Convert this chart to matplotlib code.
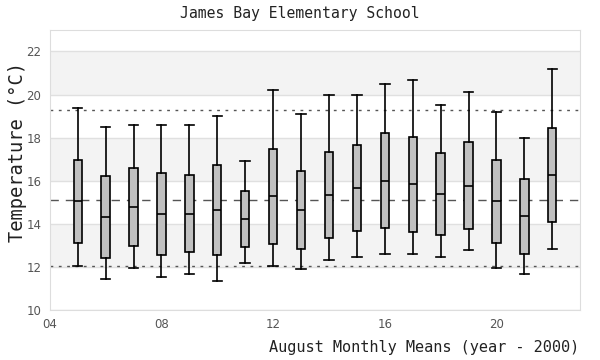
import matplotlib
matplotlib.use("Agg")
import matplotlib.pyplot as plt

# August monthly means per year (year - 2000)
years = [5, 6, 7, 8, 9, 10, 11, 12, 13, 14, 15, 16, 17, 18, 19, 20, 21, 22]
whisker_low = [12.06, 11.46, 11.97, 11.55, 11.69, 11.36, 12.16, 12.06, 11.88,
               12.30, 12.48, 12.59, 12.59, 12.48, 12.76, 11.97, 11.69, 12.85]
q1 = [13.13, 12.39, 12.95, 12.53, 12.67, 12.53, 12.90, 13.04, 12.81,
      13.32, 13.65, 13.79, 13.60, 13.48, 13.74, 13.13, 12.62, 14.07]
medians = [15.04, 14.30, 14.78, 14.44, 14.44, 14.62, 14.20, 15.28, 14.62,
           15.32, 15.66, 15.98, 15.84, 15.37, 15.74, 15.04, 14.36, 16.25]
q3 = [16.95, 16.21, 16.58, 16.35, 16.25, 16.72, 15.51, 17.47, 16.44,
      17.33, 17.65, 18.21, 18.02, 17.28, 17.79, 16.95, 16.07, 18.44]
whisker_high = [19.36, 18.48, 18.57, 18.57, 18.57, 18.99, 16.91, 20.21, 19.10,
                19.98, 19.98, 20.49, 20.68, 19.52, 20.12, 19.19, 17.98, 21.19]

overall_mean = 15.09
upper_ref = 19.28
lower_ref = 12.06

x_ticks = [4, 8, 12, 16, 20]
y_ticks = [10, 12, 14, 16, 18, 20, 22]
shaded_bands = [(12, 14), (16, 18), (20, 22)]

mono = "DejaVu Sans Mono"

fig = plt.figure(figsize=(6, 3.6), dpi=100)
ax = fig.add_axes([0.083, 0.139, 0.884, 0.778])

# alternating background bands + grid
for lo, hi in shaded_bands:
    ax.axhspan(lo, hi, color="#f3f3f3", zorder=0, lw=0)
for y in y_ticks:
    ax.axhline(y, color="#e0e0e0", lw=1, zorder=0.5)

# reference lines
ax.axhline(upper_ref, color="#555555", lw=1, ls=(0, (2, 4)), zorder=1)
ax.axhline(lower_ref, color="#555555", lw=1, ls=(0, (2, 4)), zorder=1)
ax.axhline(overall_mean, color="#555555", lw=1, ls=(0, (6, 5)), zorder=1)

stats = []
for i in range(len(years)):
    stats.append({
        "whislo": whisker_low[i], "q1": q1[i], "med": medians[i],
        "q3": q3[i], "whishi": whisker_high[i], "fliers": [],
    })

ax.bxp(stats, positions=years, widths=0.3, patch_artist=True,
       showfliers=False, manage_ticks=False,
       boxprops=dict(facecolor="#c0c0c0", edgecolor="black", lw=1.2),
       medianprops=dict(color="black", lw=1.2),
       whiskerprops=dict(color="black", lw=1.2),
       capprops=dict(color="black", lw=1.2),
       capwidths=0.34, zorder=3)

ax.set_xlim(4, 23)
ax.set_ylim(10, 23)
ax.set_xticks(x_ticks)
ax.set_xticklabels(["%02d" % t for t in x_ticks])
ax.set_yticks(y_ticks)
ax.tick_params(length=0, colors="#555555", labelsize=8.5, pad=6)
for s in ax.spines.values():
    s.set_color("#dddddd")

fig.text(0.5, 0.962, "James Bay Elementary School", ha="center", va="center",
         family=mono, fontsize=10.6, color="#222222")
fig.text(0.965, 0.035, "August Monthly Means (year - 2000)", ha="right",
         va="center", family=mono, fontsize=11, color="#222222")
fig.text(0.03, 0.577, "Temperature (°C)", ha="center", va="center",
         rotation=90, family=mono, fontsize=13.5, color="#222222")

fig.savefig("out.png", dpi=100)
